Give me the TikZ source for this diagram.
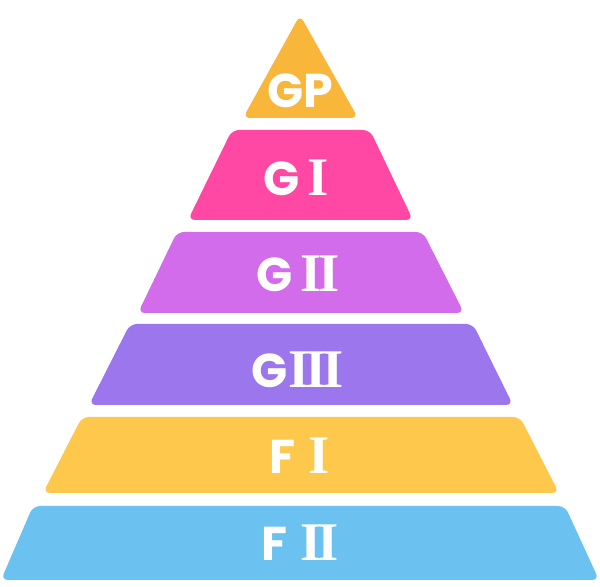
\documentclass[tikz,border=0pt]{standalone}
\usepackage{fontspec}
\setmainfont{Poppins}
\newfontfamily\romfont{Liberation Serif}
\newcommand{\romsize}{\romfont\bfseries\fontsize{31}{31}\selectfont}
\newcommand{\romI}{{\romsize I}}
\newcommand{\romII}{{\romsize I\kern-0.07em I}}
\newcommand{\romIII}{{\romsize I\kern-0.07em I\kern-0.07em I}}
\definecolor{gpcol}{HTML}{F8B63B}
\definecolor{gicol}{HTML}{FF48A4}
\definecolor{giicol}{HTML}{D26CEA}
\definecolor{giiicol}{HTML}{9B76EC}
\definecolor{ficol}{HTML}{FDC84B}
\definecolor{fiicol}{HTML}{6BC1F0}
\begin{document}
\begin{tikzpicture}[x=0.02cm, y=-0.02cm,
  layer/.style={rounded corners=4pt},
  lbl/.style={text=white, font=\bfseries\fontsize{27}{27}\selectfont, inner sep=0pt}]
\useasboundingbox (0,0) rectangle (600,587);
% pyramid, top to bottom
\fill[gpcol, layer] (300,15)--(358,118)--(243,118)--cycle;
\fill[gicol, layer] (232,130)--(370,130)--(413,220)--(188,220)--cycle;
\fill[giicol, layer] (177,232)--(423,232)--(464,313)--(138,313)--cycle;
\fill[giiicol, layer] (130,324)--(473,324)--(513,405)--(89,405)--cycle;
\fill[ficol, layer] (82,417)--(520,417)--(559,493)--(43,493)--cycle;
\fill[fiicol, layer] (33,506)--(565,506)--(599,580)--(1,580)--cycle;
% labels
\node[lbl] (gp) at (300,91) {GP};
\node[lbl] (gi) at (296,178) {G\,\romI};
\node[lbl] (gii) at (298,274) {G\,\romII};
\node[lbl] (giii) at (298,370) {G\romIII};
\node[lbl] (fi) at (300,456) {F\;\romI};
\node[lbl] (fii) at (300,543) {F\;\romII};
\end{tikzpicture}
\end{document}
